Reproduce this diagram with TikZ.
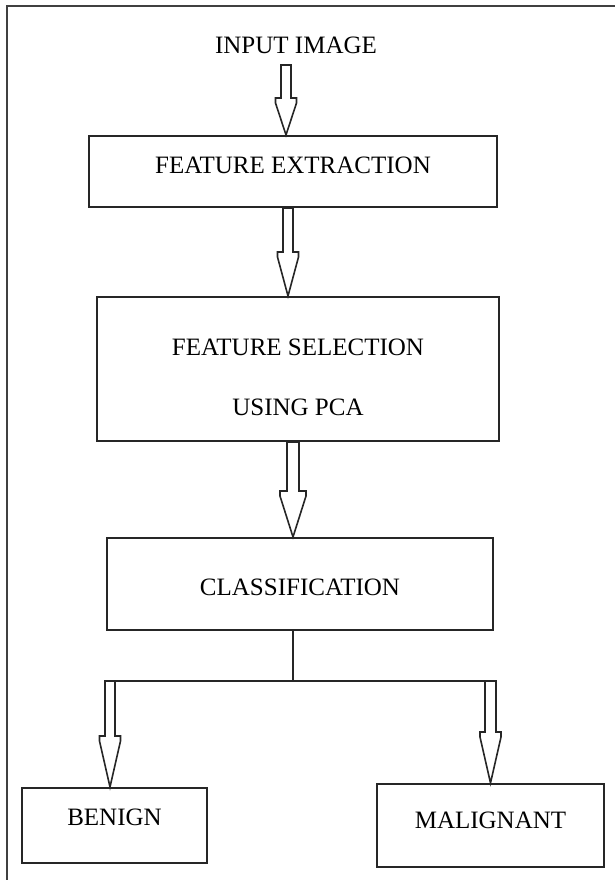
\documentclass[tikz,border=0pt]{standalone}
\usepackage{fontspec}
\setmainfont{Liberation Serif}
\usepackage{tikz}
\usetikzlibrary{calc}

% hollow block arrow: top, tip, shaft half width, head half width, head length
\newcommand{\hollowarrow}[5]{%
  \draw[harrow] ($(#1)+(-#3,0)$) -- ($(#2)+(-#3,#5)$) -- ($(#2)+(-#4,#5)$)
    -- ($(#2)+(-#4,#5-5)$) -- (#2) -- ($(#2)+(#4,#5-5)$) -- ($(#2)+(#4,#5)$)
    -- ($(#2)+(#3,#5)$) -- ($(#1)+(#3,0)$) -- cycle;}

\begin{document}
\begin{tikzpicture}[x=1pt, y=1pt,
  txt/.style={font=\fontsize{25}{30}\selectfont, inner sep=0pt},
  box/.style={txt, draw=black!85, line width=2pt},
  harrow/.style={draw=black!85, line width=1.6pt, fill=white},
  link/.style={draw=black!85, line width=1.8pt},
  frameline/.style={draw=black!75, line width=2.8pt}]
  \useasboundingbox (0,0) rectangle (615,880);
  \draw[frameline] (7,-10) |- (625,874);

  \node[txt] (input) at (296,835) {INPUT IMAGE};
  \node[box, minimum width=408pt, minimum height=71pt,
        text height=16.5pt, text depth=13pt] (extr) at (293,708.5) {FEATURE EXTRACTION};
  \node[box, align=center, minimum width=402pt, minimum height=144pt,
        text height=92.5pt, text depth=0pt, font=\fontsize{25}{60}\selectfont]
        (sel) at (298,511) {FEATURE SELECTION\\USING PCA};
  \node[box, minimum width=386pt, minimum height=92pt,
        text height=22.5pt, text depth=0pt] (cls) at (300,296) {CLASSIFICATION};
  \node[box, minimum width=185pt, minimum height=75pt,
        text height=16.5pt, text depth=17pt] (ben) at (114.5,54.5) {BENIGN};
  \node[box, minimum width=227pt, minimum height=83pt,
        text height=16.5pt, text depth=11pt] (mal) at (490.5,54.5) {MALIGNANT};

  % arrows down the chain
  \coordinate (a1) at (286,815);
  \coordinate (a1t) at (a1 |- extr.north);
  \hollowarrow{a1}{a1t}{5}{10.5}{37}
  \path (extr.south) ++(-5,0) coordinate (a2);
  \coordinate (a2t) at (a2 |- sel.north);
  \hollowarrow{a2}{a2t}{5}{10.5}{44}
  \path (sel.south) ++(-5,0) coordinate (a3);
  \coordinate (a3t) at (a3 |- cls.north);
  \hollowarrow{a3}{a3t}{6}{13}{46}

  % split into the two classes
  \path (cls.south) ++(-7,0) coordinate (stem);
  \path (stem) ++(0,-50) coordinate (split);
  \path (ben.north) ++(-4.5,0) coordinate (blt);
  \coordinate (bl) at (blt |- split);
  \coordinate (mr) at (mal.north |- split);
  \draw[link] (stem) -- (split);
  \draw[link] ($(bl)+(-5,0)$) -- ($(mr)+(5.5,0)$);
  \hollowarrow{bl}{blt}{5}{10.5}{51}
  \hollowarrow{mr}{mal.north}{5.5}{10.5}{51}
\end{tikzpicture}
\end{document}
